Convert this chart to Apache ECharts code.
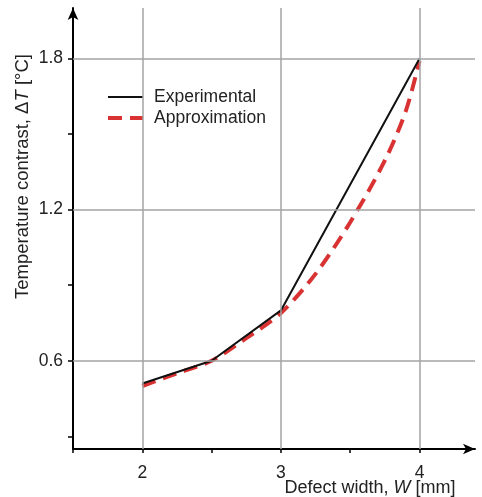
<!DOCTYPE html>
<html>
<head>
<meta charset="utf-8">
<script src="https://cdn.jsdelivr.net/npm/echarts@6/dist/echarts.min.js"></script>
<style>
  html, body { margin: 0; padding: 0; background: #fff; }
  #chart { width: 482px; height: 497px; }
</style>
</head>
<body>
<div id="chart"></div>
<script>
// measured data
const expW = [2, 2.5, 3, 4];
const expT = [0.51, 0.6, 0.8, 1.8];
const apxW = [2, 2.25, 2.5, 2.75, 3, 3.25, 3.5, 3.75, 3.9, 4];
const apxT = [0.5, 0.55, 0.6, 0.69, 0.79, 0.945, 1.15, 1.395, 1.59, 1.79];

// axis ticks / labels / grid
const xTicks = [1.5, 2, 2.5, 3, 3.5, 4];
const xLabels = [2, 3, 4];
const yTicks = [0.3, 0.6, 0.9, 1.2, 1.5, 1.8];
const yLabels = [0.6, 1.2, 1.8];

const font = 'Liberation Sans, Arial, sans-serif';
const gridColor = '#a3a3a3';
const red = '#d93232';
const dash = [14, 8];

const chart = echarts.init(document.getElementById('chart'));

const gridLines = []
  .concat(xLabels.map(v => ({ xAxis: v })))
  .concat(yLabels.map(v => ({ yAxis: v })));

chart.setOption({
  animation: false,
  backgroundColor: '#fff',
  textStyle: { fontFamily: font },
  grid: { left: 73, right: 7, top: 8, bottom: 48, containLabel: false, outerBoundsMode: 'none' },
  legend: {
    orient: 'vertical',
    left: 106,
    top: 88,
    padding: 0,
    itemWidth: 35,
    itemHeight: 14,
    itemGap: 3,
    itemStyle: { opacity: 0, borderWidth: 0 },
    textStyle: { fontSize: 17.5, color: '#222', fontFamily: font, padding: [0, 0, 0, 6] },
    data: [
      { name: 'Experimental', lineStyle: { color: '#111', width: 2, type: 'solid' } },
      { name: 'Approximation', lineStyle: { color: red, width: 4, type: dash } }
    ]
  },
  xAxis: {
    type: 'value',
    min: 1.5,
    max: 4.4,
    name: '{n|Defect width, }{i|W}{n| [mm]}',
    nameLocation: 'middle',
    nameGap: 30,
    nameMoveOverlap: false,
    nameTextStyle: {
      padding: [0, 0, 0, 192],
      rich: {
        n: { fontSize: 18, color: '#222', fontFamily: font },
        i: { fontSize: 18, color: '#222', fontFamily: font, fontStyle: 'italic' }
      }
    },
    axisLine: {
      show: true,
      symbol: ['none', 'arrow'],
      symbolSize: [8, 12],
      lineStyle: { color: '#000', width: 2 }
    },
    axisTick: { show: true, length: 4, customValues: xTicks, lineStyle: { color: '#000', width: 1.5 } },
    axisLabel: { customValues: xLabels, margin: 15, fontSize: 17.5, color: '#222', fontFamily: font },
    splitLine: { show: false }
  },
  yAxis: {
    type: 'value',
    min: 0.25,
    max: 2.0,
    name: '{n|Temperature contrast, Δ}{i|T}{n| [°C]}',
    nameLocation: 'middle',
    nameGap: 41,
    nameMoveOverlap: false,
    nameTextStyle: {
      padding: [0, 0, 0, 104],
      rich: {
        n: { fontSize: 18.5, color: '#222', fontFamily: font },
        i: { fontSize: 18.5, color: '#222', fontFamily: font, fontStyle: 'italic' }
      }
    },
    axisLine: {
      show: true,
      symbol: ['none', 'arrow'],
      symbolSize: [8, 12],
      lineStyle: { color: '#000', width: 2 }
    },
    axisTick: { show: true, length: 5, customValues: yTicks, lineStyle: { color: '#000', width: 1.5 } },
    axisLabel: {
      customValues: yLabels,
      margin: 10,
      fontSize: 17.5,
      color: '#222',
      fontFamily: font,
      formatter: v => v.toFixed(1)
    },
    splitLine: { show: false }
  },
  series: [
    {
      name: 'grid',
      type: 'line',
      data: [],
      silent: true,
      z: 1,
      markLine: {
        silent: true,
        symbol: 'none',
        label: { show: false },
        lineStyle: { color: gridColor, width: 1.5, type: 'solid' },
        data: gridLines
      }
    },
    {
      name: 'Approximation',
      type: 'line',
      data: apxW.map((w, i) => [w, apxT[i]]),
      smooth: 0.3,
      symbol: 'none',
      z: 3,
      lineStyle: { color: red, width: 4, type: dash },
      itemStyle: { color: red }
    },
    {
      name: 'Experimental',
      type: 'line',
      data: expW.map((w, i) => [w, expT[i]]),
      symbol: 'none',
      z: 4,
      lineStyle: { color: '#111', width: 2 },
      itemStyle: { color: '#111' }
    }
  ]
});
</script>
</body>
</html>
